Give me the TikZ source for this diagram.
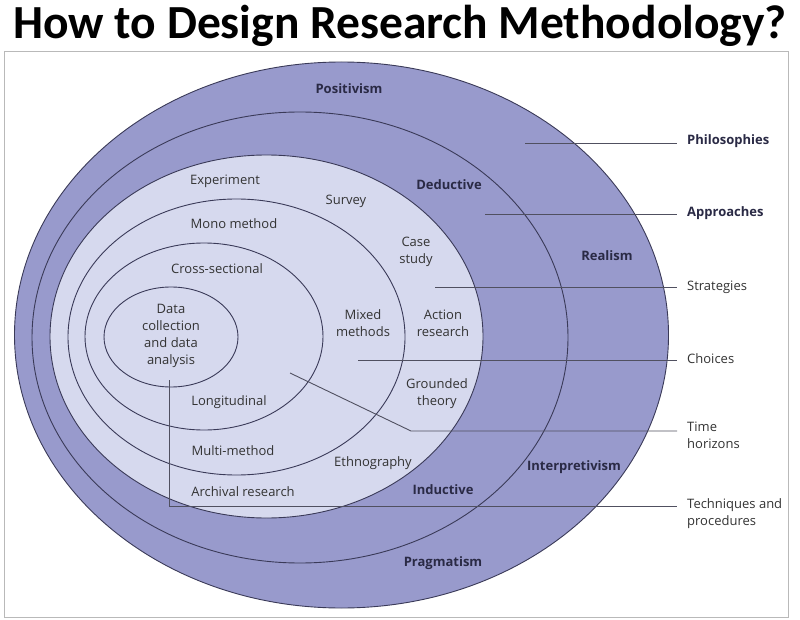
\documentclass[tikz,border=0pt]{standalone}
\usepackage{fontspec}
\setmainfont{Open Sans}
\newfontfamily\titlefont{Carlito}
\definecolor{bandpurple}{HTML}{989ACC}
\definecolor{innerlight}{HTML}{D6D9EE}
\definecolor{ringline}{HTML}{3A3A58}
\definecolor{leaderline}{HTML}{505060}
\definecolor{txt}{HTML}{333333}
\definecolor{boldtxt}{HTML}{2A2A45}
\tikzset{
  ring/.style={draw=ringline, line width=0.9pt},
  leader/.style={draw=leaderline, line width=0.9pt},
  lbl/.style={font=\fontsize{13}{17}\selectfont, text=txt, align=center, inner sep=0pt},
  blbl/.style={font=\fontsize{13}{17}\selectfont\bfseries, text=boldtxt, align=center, inner sep=0pt},
  side/.style={font=\fontsize{13}{17}\selectfont, text=txt, align=left, anchor=west, inner sep=0pt},
  bside/.style={font=\fontsize{13}{17}\selectfont\bfseries, text=boldtxt, align=left, anchor=west, inner sep=0pt}
}
\begin{document}
\begin{tikzpicture}[x=1pt,y=-1pt]
\useasboundingbox (0,0) rectangle (800,620);
\fill[white] (0,0) rectangle (800,620);
\node[font=\titlefont\bfseries\fontsize{47.5}{50}\selectfont, text=black, inner sep=0pt] (title) at (400,26) {How to Design Research Methodology?};
\draw[gray!55, line width=0.8pt] (4,51) rectangle (788,617);

% rings
\filldraw[ring, fill=bandpurple] (341.5,335) ellipse [x radius=327, y radius=273];
\filldraw[ring, fill=bandpurple] (300,337.5) ellipse [x radius=268, y radius=225.5];
\filldraw[ring, fill=innerlight] (266.5,336.5) ellipse [x radius=216.5, y radius=181.5];
\draw[ring] (236.5,337) ellipse [x radius=168.5, y radius=138];
\draw[ring] (204,336.5) ellipse [x radius=119, y radius=93.5];
\draw[ring] (171,337) ellipse [x radius=67, y radius=50];

% leader lines
\coordinate (s1) at (525,143); \coordinate (e1) at (677,143);
\coordinate (s2) at (485,214); \coordinate (e2) at (677,214);
\coordinate (s3) at (435,287); \coordinate (e3) at (677,287);
\coordinate (s4) at (358,360); \coordinate (e4) at (677,360);
\coordinate (s5) at (290,373); \coordinate (b5) at (411,431); \coordinate (e5) at (677,431);
\coordinate (s6) at (169,380); \coordinate (b6) at (169,506); \coordinate (e6) at (677,506);
\draw[leader] (s1) -- (e1);
\draw[leader] (s2) -- (e2);
\draw[leader] (s3) -- (e3);
\draw[leader] (s4) -- (e4);
\draw[leader] (s5) -- (b5) -- (e5);
\draw[leader] (s6) -- (b6) -- (e6);

% side labels
\node[bside] (philo) at (687,141) {Philosophies};
\node[bside] (appr) at (687,213) {Approaches};
\node[side] (strat) at (687,287) {Strategies};
\node[side] (choi) at (687,359) {Choices};
\node[side, anchor=north west] (timeh) at (687,422) {Time\\horizons};
\node[side, anchor=north west] (tech) at (687,498) {Techniques and\\procedures};

% philosophies
\node[blbl] (posi) at (349,89) {Positivism};
\node[blbl] (real) at (607,256) {Realism};
\node[blbl] (interp) at (574,467) {Interpretivism};
\node[blbl] (prag) at (443,563) {Pragmatism};
% approaches
\node[blbl] (ded) at (449,185) {Deductive};
\node[blbl] (ind) at (443,490) {Inductive};
% strategies
\node[lbl] (exp) at (225,181) {Experiment};
\node[lbl] (surv) at (346,201) {Survey};
\node[lbl] (case) at (416,252) {Case\\study};
\node[lbl] (act) at (443,323) {Action\\research};
\node[lbl] (grnd) at (437,394) {Grounded\\theory};
\node[lbl] (eth) at (373,463) {Ethnography};
\node[lbl] (arch) at (243,492) {Archival research};
% choices
\node[lbl] (mono) at (234,224) {Mono method};
\node[lbl] (multi) at (233,451) {Multi-method};
\node[lbl] (mixed) at (363,323) {Mixed\\methods};
% time horizons
\node[lbl] (cross) at (217,269) {Cross-sectional};
\node[lbl] (longi) at (229,402) {Longitudinal};
% techniques
\node[lbl] (data) at (171,336) {Data\\collection\\and data\\analysis};
\end{tikzpicture}
\end{document}
